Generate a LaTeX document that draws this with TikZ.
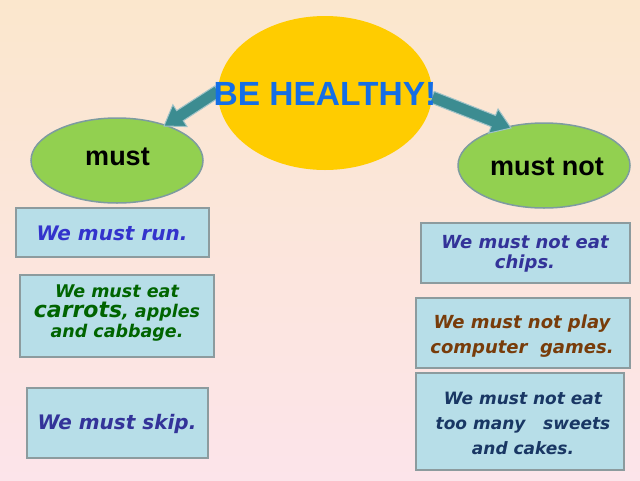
\documentclass[tikz,border=0pt]{standalone}
\usepackage{fontspec}
\setmainfont{Liberation Sans}
\newfontfamily\djv{DejaVu Sans}
\usetikzlibrary{calc,shapes.geometric}
\definecolor{bgtop}{RGB}{251,231,205}
\definecolor{bgbot}{RGB}{252,228,234}
\definecolor{sunY}{RGB}{255,204,0}
\definecolor{titleblue}{RGB}{20,110,230}
\definecolor{greenF}{RGB}{146,208,80}
\definecolor{greenD}{RGB}{125,155,160}
\definecolor{boxF}{RGB}{183,222,232}
\definecolor{boxD}{RGB}{140,155,158}
\definecolor{arrowF}{RGB}{60,140,145}
\definecolor{arrowD}{RGB}{160,195,200}
\definecolor{runC}{RGB}{51,51,204}
\definecolor{carC}{RGB}{0,100,0}
\definecolor{skipC}{RGB}{51,51,153}
\definecolor{chipC}{RGB}{51,51,153}
\definecolor{gameC}{RGB}{120,60,10}
\definecolor{sweetC}{RGB}{25,55,100}
\newcommand\blockarr[2]{%
  \coordinate (#1h) at ($(#2)!19pt!(#1)$);
  \path[arrowst] ($(#1)!6pt!90:(#2)$) -- ($(#1h)!6pt!-90:(#1)$) -- ($(#1h)!13pt!-90:(#1)$) -- (#2)
    -- ($(#1h)!13pt!90:(#1)$) -- ($(#1h)!6pt!90:(#1)$) -- ($(#1)!6pt!-90:(#2)$) -- cycle;}
\begin{document}
\begin{tikzpicture}[x=1pt,y=-1pt,
  greenell/.style={ellipse, draw=greenD, line width=1.5pt, fill=greenF, minimum width=172pt, minimum height=85pt, inner sep=0pt},
  boxst/.style={rectangle, draw=boxD, line width=1.5pt, fill=boxF, inner sep=0pt},
  arrowst/.style={fill=arrowF, draw=arrowD, line width=1pt, line join=miter},
  boxtext/.style={anchor=base, align=center, inner sep=0pt},
  ellabel/.style={anchor=base, inner sep=0pt, font=\fontsize{27}{30}\selectfont\bfseries}]
\useasboundingbox (0,0) rectangle (640,480);
\shade[top color=bgtop, bottom color=bgbot] (0,0) rectangle (640,480);
% sun
\node[ellipse, fill=sunY, minimum width=214pt, minimum height=154pt, inner sep=0pt] (sun) at (325,93) {};
% green ellipses
\node[greenell] (must) at (117,160.5) {};
\node[greenell] (mustnot) at (544,165.5) {};
% arrows
\coordinate (lat) at (218,91);
\coordinate (lap) at (164,126);
\coordinate (rat) at (432,97);
\coordinate (rap) at (511,128);
\blockarr{lat}{lap}
\blockarr{rat}{rap}
% title
\node[anchor=base, inner sep=0pt, text=titleblue, font=\fontsize{33.5}{36}\selectfont\bfseries] (title) at (325,105) {BE HEALTHY!};
\node[ellabel] (mustlbl) at (117.5,165) {must};
\node[ellabel] (mustnotlbl) at (547,175) {must not};
% boxes
\node[boxst, minimum width=193pt, minimum height=49pt] (b1) at (112.5,232.5) {};
\node[boxst, minimum width=194pt, minimum height=82pt] (b2) at (117,316) {};
\node[boxst, minimum width=181pt, minimum height=70pt] (b3) at (117.5,423) {};
\node[boxst, minimum width=209pt, minimum height=60pt] (b4) at (525.5,253) {};
\node[boxst, minimum width=214pt, minimum height=70pt] (b5) at (523,333) {};
\node[boxst, minimum width=208pt, minimum height=97pt] (b6) at (520,421.5) {};
% box texts (base anchor = baseline of last line)
\node[boxtext, text=runC, font=\djv\fontsize{20}{24}\selectfont\bfseries\itshape] (t1) at (112,240) {We must run.};
\node[boxtext, text=carC, font=\djv\fontsize{17.5}{20}\selectfont\bfseries\itshape] (t2) at (117,337) {We must eat\\{\fontsize{22}{20}\selectfont carrots}, apples\\and cabbage.};
\node[boxtext, text=skipC, font=\djv\fontsize{20}{24}\selectfont\bfseries\itshape] (t3) at (117,429) {We must skip.};
\node[boxtext, text=chipC, font=\djv\fontsize{18}{20}\selectfont\bfseries\itshape] (t4) at (525,268) {We must not eat\\chips.};
\node[boxtext, text=gameC, font=\djv\fontsize{18}{25}\selectfont\bfseries\itshape] (t5) at (522,353) {We must not play\\computer\ \ games.};
\node[boxtext, text=sweetC, font=\djv\fontsize{17}{25}\selectfont\bfseries\itshape] (t6) at (523,454) {We must not eat\\too many\ \ \ sweets\\and cakes.};
\end{tikzpicture}
\end{document}
